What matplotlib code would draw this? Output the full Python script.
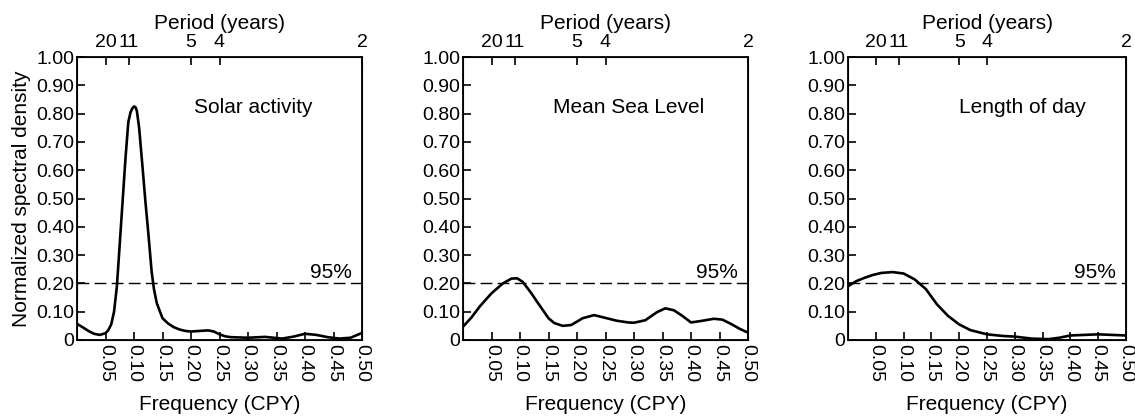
"""Normalized spectra: solar activity, mean sea level, length of day."""
import matplotlib
matplotlib.use("Agg")
import matplotlib.pyplot as plt

plt.rcParams["font.family"] = ["Liberation Sans", "DejaVu Sans"]
plt.rcParams["text.color"] = "black"

# spectra (frequency in CPY, normalized density)
solar_freq = [0.0, 0.01, 0.02, 0.03, 0.04, 0.05, 0.055, 0.06, 0.065, 0.07,
              0.075, 0.08, 0.085, 0.09, 0.094, 0.0975, 0.10, 0.1025, 0.105,
              0.109, 0.115, 0.12, 0.125, 0.131, 0.135, 0.14, 0.15, 0.16,
              0.17, 0.18, 0.19, 0.20, 0.215, 0.23, 0.24, 0.25, 0.26, 0.27,
              0.30, 0.33, 0.36, 0.38, 0.40, 0.42, 0.44, 0.46, 0.48, 0.50]
solar_val = [0.057, 0.045, 0.032, 0.022, 0.018, 0.024, 0.035, 0.055, 0.10,
             0.19, 0.34, 0.49, 0.64, 0.77, 0.805, 0.82, 0.825, 0.823, 0.81,
             0.75, 0.61, 0.49, 0.38, 0.24, 0.18, 0.13, 0.077, 0.058, 0.045,
             0.037, 0.032, 0.030, 0.032, 0.034, 0.030, 0.020, 0.013, 0.010,
             0.008, 0.011, 0.005, 0.012, 0.022, 0.018, 0.010, 0.005, 0.008,
             0.025]

msl_freq = [0.0, 0.015, 0.03, 0.05, 0.07, 0.085, 0.095, 0.105, 0.12, 0.13,
            0.14, 0.15, 0.16, 0.175, 0.19, 0.20, 0.21, 0.23, 0.25, 0.27,
            0.29, 0.30, 0.32, 0.34, 0.355, 0.37, 0.385, 0.40, 0.42, 0.44,
            0.455, 0.47, 0.485, 0.50]
msl_val = [0.047, 0.08, 0.12, 0.165, 0.20, 0.217, 0.218, 0.205, 0.165,
           0.135, 0.106, 0.077, 0.06, 0.05, 0.053, 0.065, 0.077, 0.088,
           0.078, 0.068, 0.062, 0.061, 0.07, 0.098, 0.112, 0.105, 0.085,
           0.062, 0.068, 0.075, 0.072, 0.057, 0.04, 0.026]

lod_freq = [0.0, 0.015, 0.03, 0.045, 0.06, 0.08, 0.10, 0.12, 0.14, 0.16,
            0.18, 0.20, 0.22, 0.25, 0.28, 0.30, 0.33, 0.36, 0.38, 0.40,
            0.45, 0.50]
lod_val = [0.19, 0.208, 0.22, 0.23, 0.237, 0.24, 0.235, 0.214, 0.18, 0.126,
           0.085, 0.055, 0.035, 0.02, 0.014, 0.012, 0.005, 0.003, 0.008,
           0.016, 0.02, 0.016]

panel_titles = ["Solar activity", "Mean Sea Level", "Length of day"]
title_x = [0.205, 0.158, 0.20]

periods = [20, 11, 5, 4, 2]
period_labels = ["20", "11", "5", "4", "2"]
freq_ticks = [0.05, 0.10, 0.15, 0.20, 0.25, 0.30, 0.35, 0.40, 0.45, 0.50]
density_ticks = [0, 0.1, 0.2, 0.3, 0.4, 0.5, 0.6, 0.7, 0.8, 0.9, 1.0]
significance = 0.20

W, H = 1135, 420
fig = plt.figure(figsize=(W / 100, H / 100), dpi=100)

# axes boxes in pixels (left, right), shared top/bottom
boxes = [(77, 362), (463, 748), (848, 1126)]
top_px, bot_px = 57, 340

series = [(solar_freq, solar_val), (msl_freq, msl_val), (lod_freq, lod_val)]

for i, ((l, r), (fx, fy)) in enumerate(zip(boxes, series)):
    ax = fig.add_axes([l / W, 1 - bot_px / H, (r - l) / W, (bot_px - top_px) / H])
    ax.plot(fx, fy, color="black", lw=1.9, solid_capstyle="round",
            solid_joinstyle="round")
    dash = ax.axhline(significance, color="black", lw=1.0)
    dash.set_dashes([8.5, 3.8])
    ax.text(0.445, significance + 0.006, "95%", ha="center", va="bottom",
            fontsize=15)
    ax.text(title_x[i], 0.82, panel_titles[i], ha="left", va="center",
            fontsize=15)

    ax.set_xlim(0, 0.5)
    ax.set_ylim(0, 1.0)
    ax.set_xticks(freq_ticks)
    ax.set_xticklabels([f"{t:.2f}" for t in freq_ticks], rotation=-90)
    ax.set_yticks(density_ticks)
    ax.set_yticklabels(["0"] + [f"{t:.2f}" for t in density_ticks[1:]])
    ax.tick_params(axis="both", direction="in", length=6, width=1.2,
                   labelsize=14, pad=2)
    ax.tick_params(axis="x", pad=3)
    for s in ax.spines.values():
        s.set_linewidth(1.3)
    ax.set_xlabel("Frequency (CPY)", fontsize=15, labelpad=9)
    if i == 0:
        ax.set_ylabel("Normalized spectral density", fontsize=15, labelpad=4)

    top = ax.twiny()
    top.set_xlim(0, 0.5)
    top.set_xticks([1 / p for p in periods])
    top.set_xticklabels(period_labels)
    top.tick_params(axis="x", direction="in", length=6, width=1.2,
                    labelsize=14, pad=4)
    top.set_xlabel("Period (years)", fontsize=15, labelpad=4)

fig.savefig("out.png", dpi=100)
